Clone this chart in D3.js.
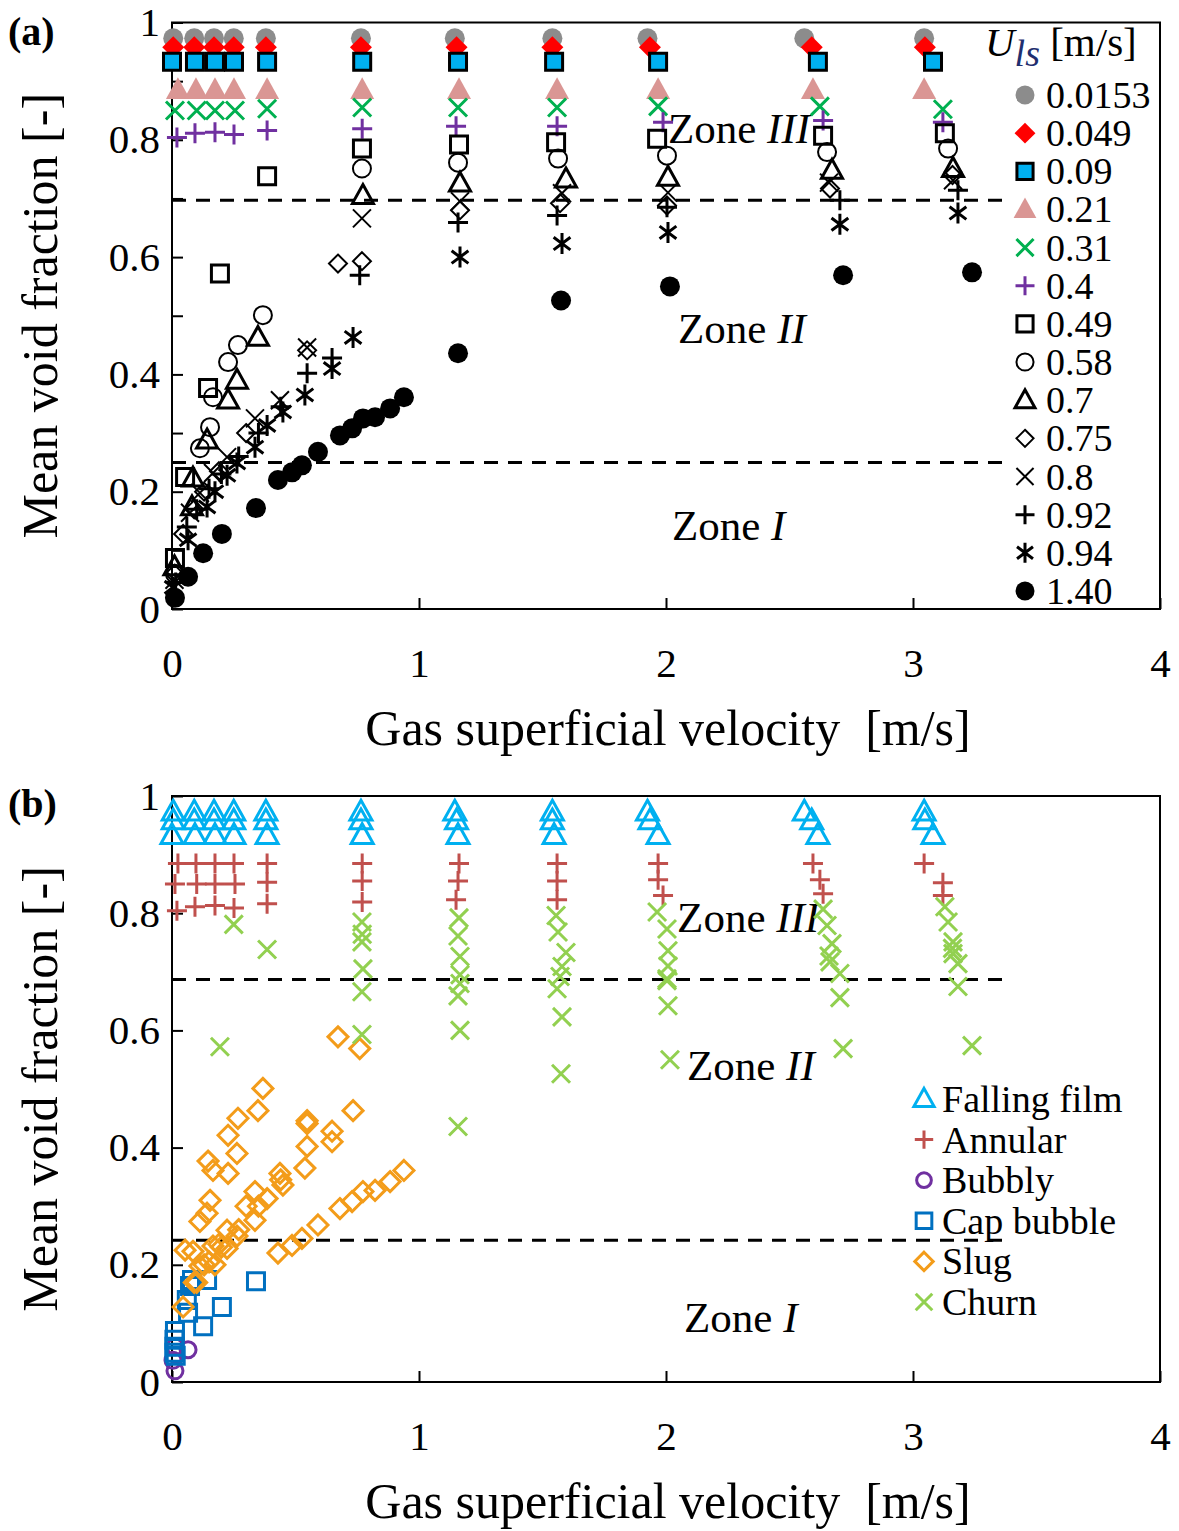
<!DOCTYPE html>
<html><head><meta charset="utf-8">
<script src="https://cdn.jsdelivr.net/npm/d3@7"></script>
<style>body{margin:0;background:#fff} svg{display:block} text{font-family:"Liberation Serif","Times New Roman",serif;fill:#000}</style>
</head><body><svg id="c" width="1179" height="1531"></svg>
<script>
// ---------------- DATA ----------------
const ulsLabels = ["0.0153","0.049","0.09","0.21","0.31","0.4","0.49","0.58","0.7","0.75","0.8","0.92","0.94","1.40"];
// gas superficial velocity [m/s] per liquid velocity series
const gasVelocity = [
  [0.005,0.09,0.17,0.25,0.38,0.765,1.145,1.54,1.925,2.56,3.045],
  [0.005,0.09,0.17,0.25,0.38,0.765,1.152,1.54,1.935,2.59,3.048],
  [0.0,0.093,0.174,0.251,0.385,0.77,1.158,1.547,1.968,2.615,3.081],
  [0.024,0.097,0.174,0.251,0.385,0.77,1.162,1.559,1.968,2.595,3.045],
  [0.012,0.1,0.174,0.255,0.385,0.77,1.158,1.559,1.968,2.623,3.121],
  [0.02,0.093,0.174,0.251,0.385,0.77,1.15,1.559,1.988,2.636,3.121],
  [0.012,0.053,0.146,0.194,0.385,0.769,1.162,1.555,1.964,2.636,3.129],
  [0.012,0.113,0.154,0.166,0.227,0.267,0.368,0.769,1.158,1.563,2.004,2.652,3.142],
  [0.01,0.081,0.085,0.142,0.227,0.263,0.348,0.773,1.166,1.595,2.008,2.672,3.162],
  [0.01,0.045,0.09,0.13,0.19,0.3,0.547,0.672,0.769,1.166,1.571,2.004,2.664,3.16],
  [0.01,0.073,0.113,0.166,0.223,0.336,0.437,0.547,0.769,1.166,1.579,2.008,2.66,3.162],
  [0.015,0.06,0.1,0.15,0.2,0.27,0.35,0.44,0.547,0.648,0.76,1.158,1.559,2.004,2.704,3.182],
  [0.004,0.065,0.142,0.174,0.223,0.263,0.336,0.385,0.449,0.538,0.648,0.733,1.166,1.579,2.008,2.704,3.182],
  [0.012,0.065,0.126,0.202,0.34,0.429,0.486,0.526,0.591,0.68,0.729,0.773,0.822,0.883,0.939,1.158,1.575,2.016,2.717,3.239]
];
// mean void fraction [-]
const voidFraction = [
  [0.973,0.973,0.973,0.973,0.973,0.973,0.973,0.973,0.973,0.973,0.973],
  [0.958,0.958,0.958,0.958,0.958,0.958,0.958,0.958,0.958,0.958,0.958],
  [0.933,0.933,0.933,0.933,0.933,0.933,0.933,0.933,0.933,0.933,0.933],
  [0.885,0.885,0.885,0.885,0.885,0.885,0.885,0.885,0.885,0.885,0.885],
  [0.85,0.85,0.85,0.85,0.853,0.855,0.855,0.855,0.857,0.857,0.852],
  [0.804,0.811,0.813,0.809,0.816,0.819,0.823,0.823,0.83,0.833,0.83],
  [0.087,0.225,0.377,0.572,0.738,0.785,0.792,0.796,0.802,0.807,0.811],
  [0.06,0.274,0.31,0.361,0.421,0.45,0.501,0.751,0.761,0.768,0.773,0.779,0.785],
  [0.072,0.174,0.223,0.288,0.356,0.39,0.463,0.705,0.726,0.733,0.736,0.748,0.751],
  [0.06,0.128,0.17,0.2,0.235,0.3,0.441,0.589,0.593,0.68,0.692,0.688,0.717,0.74],
  [0.05,0.164,0.198,0.232,0.259,0.325,0.356,0.446,0.666,0.695,0.709,0.71,0.727,0.731],
  [0.045,0.14,0.17,0.205,0.23,0.26,0.3,0.345,0.402,0.428,0.569,0.659,0.671,0.685,0.697,0.714],
  [0.037,0.118,0.174,0.2,0.228,0.249,0.276,0.313,0.336,0.365,0.41,0.463,0.6,0.623,0.642,0.656,0.675],
  [0.019,0.055,0.095,0.128,0.172,0.22,0.233,0.245,0.268,0.296,0.308,0.325,0.327,0.342,0.361,0.436,0.526,0.55,0.569,0.574]
];
// flow regime of each point: F falling film, A annular, B bubbly, C cap bubble, S slug, H churn
const pointRegimes = [
  "FFFFFFFFFFF","FFFFFFFFFFF","FFFFFFFFFFF",
  "AAAAAAAAAAA","AAAAAAAAAAA","AAAAAAAAAAA",
  "CSSHHHHHHHH","BSSSSSSHHHHHH","CCSSSSSHHHHHH","CSSSSSSSHHHHHH",
  "CCSSSSSSHHHHHH","CCSSSSSSSSSHHHHH","BCCSSSSSSSSSHHHHH","BBCCCSSSSSSSSSSHHHHH"
];
// extra churn points visible only in panel (b)
const extraChurnX = [0.25, 0.77];
const extraChurnY = [0.781, 0.764];
const regimeCodes = ["F","A","B","C","S","H"];
const regimeNames = ["Falling film","Annular","Bubbly","Cap bubble","Slug","Churn"];
const xTicks = [0,1,2,3,4];
const zoneLabelsA = [["III",2.008,0.794],["II",2.049,0.453],["I",2.024,0.118]];
const zoneLabelsB = [["III",2.045,0.768],["II",2.085,0.515],["I",2.073,0.085]];
const zoneLinesA = [0.697,0.25];
const zoneLinesB = [0.687,0.242];

// ---------------- STYLES ----------------
const seriesStyle = [
  {shape:"circle",  r:10, fill:"#8c8c8c", stroke:"none", sw:0},
  {shape:"diamond", r:11, fill:"#ff0000", stroke:"none", sw:0},
  {shape:"square",  r:8.5, fill:"#00b0f0", stroke:"#000", sw:3},
  {shape:"triangle",r:12, fill:"#da9694", stroke:"none", sw:0},
  {shape:"x",       r:9,  fill:"none", stroke:"#00b050", sw:3},
  {shape:"plus",    r:10, fill:"none", stroke:"#7030a0", sw:3},
  {shape:"square",  r:8.5, fill:"none", stroke:"#000", sw:3},
  {shape:"circle",  r:9,  fill:"none", stroke:"#000", sw:2},
  {shape:"triangle",r:10.5, fill:"none", stroke:"#000", sw:3},
  {shape:"diamond", r:9,  fill:"none", stroke:"#000", sw:2},
  {shape:"x",       r:9,  fill:"none", stroke:"#000", sw:2},
  {shape:"plus",    r:10, fill:"none", stroke:"#000", sw:3},
  {shape:"asterisk",r:10.5, fill:"none", stroke:"#000", sw:3},
  {shape:"circle",  r:10, fill:"#000", stroke:"none", sw:0}
];
const regimeStyle = {
  F:{shape:"triangle",r:11, fill:"none", stroke:"#00b0f0", sw:3},
  A:{shape:"plus",    r:10, fill:"none", stroke:"#c0504d", sw:3},
  B:{shape:"circle",  r:8,  fill:"none", stroke:"#7030a0", sw:3},
  C:{shape:"square",  r:8.5,fill:"none", stroke:"#0070c0", sw:3},
  S:{shape:"diamond", r:10, fill:"none", stroke:"#f39c1a", sw:3},
  H:{shape:"x",       r:9,  fill:"none", stroke:"#92d050", sw:3}
};

function symPath(shape, s){
  switch(shape){
    case "circle": return `M${s},0A${s},${s} 0 1,1 ${-s},0A${s},${s} 0 1,1 ${s},0Z`;
    case "square": return `M${-s},${-s}H${s}V${s}H${-s}Z`;
    case "diamond": return `M0,${-s}L${s},0L0,${s}L${-s},0Z`;
    case "triangle": return `M0,${-s*1.05}L${s},${s*0.75}L${-s},${s*0.75}Z`;
    case "x": return `M${-s},${-s}L${s},${s}M${-s},${s}L${s},${-s}`;
    case "plus": return `M${-s},0H${s}M0,${-s}V${s}`;
    case "asterisk": {const a=s*0.8,b=s*0.6; return `M0,${-s}V${s}M${-a},${-b}L${a},${b}M${-a},${b}L${a},${-b}`;}
  }
}
function drawSym(g, st, x, y, scale=1){
  g.append("path").attr("d", symPath(st.shape, st.r*scale))
    .attr("transform",`translate(${x},${y})`)
    .attr("fill", st.fill).attr("stroke", st.stroke).attr("stroke-width", st.sw);
}

const svg = d3.select("#c");
const xA = d3.scaleLinear([0,4],[172,1160]);
const yA = d3.scaleLinear([0,1],[609,22.5]);
const xB = d3.scaleLinear([0,4],[172,1160]);
const yB = d3.scaleLinear([0,1],[1382,796]);

function frame(x, y, yTickVals, letter, letterY, titleBaseY){
  const g = svg.append("g");
  g.append("rect").attr("x",x(0)).attr("y",y(1)).attr("width",x(4)-x(0)).attr("height",y(0)-y(1))
    .attr("fill","none").attr("stroke","#000").attr("stroke-width",2);
  const fmt = v => { const r=Math.round(v*10); if(r%2) return ""; if(r===0) return "0"; if(r===10) return "1"; return (r/10).toFixed(1); };
  const ya = g.append("g").attr("transform",`translate(${x(0)},0)`)
    .call(d3.axisLeft(y).tickValues(yTickVals).tickSize(-11).tickPadding(12).tickFormat(fmt));
  const xa = g.append("g").attr("transform",`translate(0,${y(0)})`)
    .call(d3.axisBottom(x).tickValues(xTicks).tickSize(-11).tickPadding(39).tickFormat(d3.format("d")));
  [ya,xa].forEach(a=>{
    a.select(".domain").remove();
    a.selectAll(".tick line").attr("stroke","#000").attr("stroke-width",2);
    a.selectAll(".tick text").attr("font-size",41).attr("font-family","Liberation Serif");
  });
  g.append("text").attr("x",8).attr("y",letterY).attr("font-size",40).attr("font-weight","bold").text(letter);
  g.append("text").attr("transform",`translate(57,${(y(0)+y(1))/2}) rotate(-90)`).attr("text-anchor","middle")
    .attr("font-size",50).text("Mean void fraction [-]");
  g.append("text").attr("x",668).attr("y",titleBaseY).attr("text-anchor","middle")
    .attr("font-size",50).attr("xml:space","preserve").text("Gas superficial velocity  [m/s]");
  return g;
}
function zones(g, x, y, lines, lineEnd, labels){
  lines.forEach(v=>{
    g.append("line").attr("x1",x(0)).attr("x2",x(lineEnd)).attr("y1",y(v)).attr("y2",y(v))
      .attr("stroke","#000").attr("stroke-width",3).attr("stroke-dasharray","14,10");
  });
  labels.forEach(([roman,zx,zy])=>{
    const t=g.append("text").attr("x",x(zx)).attr("y",y(zy)).attr("font-size",43);
    t.append("tspan").text("Zone ");
    t.append("tspan").attr("font-style","italic").text(roman);
  });
}

// ---------- Panel (a) ----------
const gA = frame(xA, yA, d3.range(0,11).map(i=>i/10), "(a)", 45, 745);
zones(gA, xA, yA, zoneLinesA, 3.38, zoneLabelsA);
const ptsA = gA.append("g");
gasVelocity.forEach((xs,i)=>{
  xs.forEach((xv,j)=> drawSym(ptsA, seriesStyle[i], xA(xv), yA(voidFraction[i][j])));
});
// legend (a)
const legA = gA.append("g");
const lt = legA.append("text").attr("x",985).attr("y",56).attr("font-size",41);
lt.append("tspan").attr("font-style","italic").text("U");
lt.append("tspan").attr("font-style","italic").attr("dy",10).attr("font-size",38).attr("fill","#1f2f6f").text("ls");
lt.append("tspan").attr("dy",-10).attr("xml:space","preserve").text(" [m/s]");
ulsLabels.forEach((lab,i)=>{
  const cy = 95 + i*38.15;
  drawSym(legA, seriesStyle[i], 1025, cy, 0.95);
  legA.append("text").attr("x",1046).attr("y",cy+13).attr("font-size",38).text(lab);
});

// ---------- Panel (b) ----------
const gB = frame(xB, yB, [0,0.2,0.4,0.6,0.8,1], "(b)", 817, 1518);
zones(gB, xB, yB, zoneLinesB, 3.4, zoneLabelsB);
const ptsB = gB.append("g");
regimeCodes.forEach(code=>{
  gasVelocity.forEach((xs,i)=>{
    xs.forEach((xv,j)=>{
      if(pointRegimes[i][j]===code) drawSym(ptsB, regimeStyle[code], xB(xv), yB(voidFraction[i][j]));
    });
  });
  if(code==="H") extraChurnX.forEach((xv,k)=>drawSym(ptsB, regimeStyle.H, xB(xv), yB(extraChurnY[k])));
});
const legB = gB.append("g");
regimeNames.forEach((name,i)=>{
  const cy = 1099 + i*40.6;
  drawSym(legB, regimeStyle[regimeCodes[i]], 924, cy, 0.92);
  legB.append("text").attr("x",942).attr("y",cy+13).attr("font-size",38).text(name);
});
</script></body></html>
